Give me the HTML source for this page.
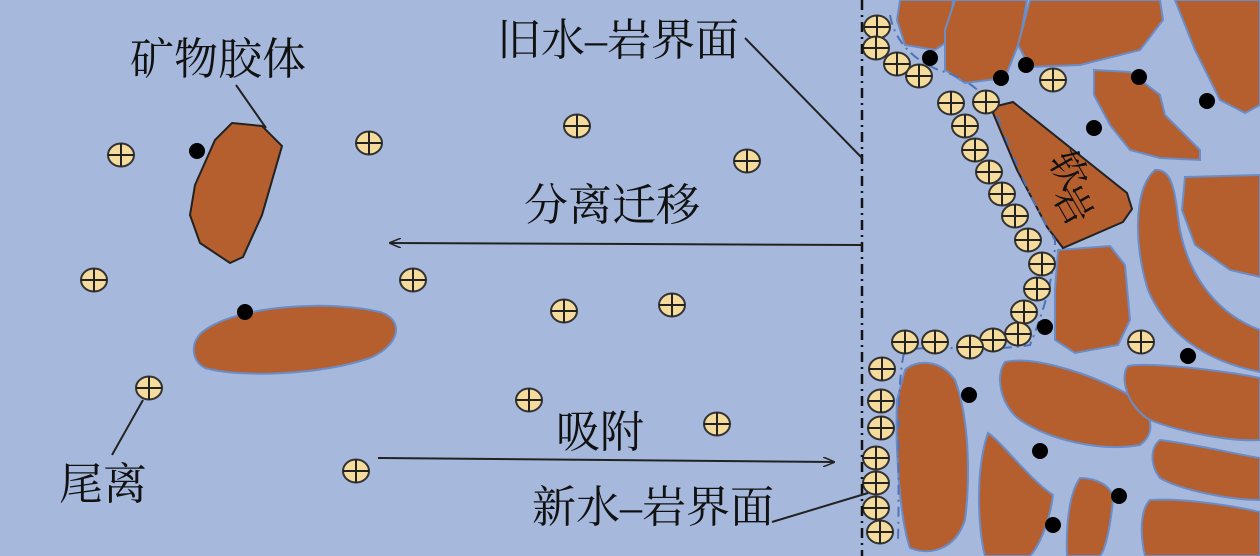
<!DOCTYPE html>
<html><head><meta charset="utf-8"><style>
html,body{margin:0;padding:0;background:#a6b9dc;}
svg{display:block}
text{font-family:"Liberation Serif","Noto Serif CJK SC",serif;fill:#111;}
</style></head><body>
<svg width="1260" height="556" viewBox="0 0 1260 556" xmlns="http://www.w3.org/2000/svg">
<defs>
<g id="c"><ellipse cx="0" cy="0" rx="13" ry="11.5" fill="#f6dc9c" stroke="#333" stroke-width="2"/><line x1="-13" y1="0" x2="13" y2="0" stroke="#222" stroke-width="2"/><line x1="0" y1="-11.5" x2="0" y2="11.5" stroke="#222" stroke-width="2"/></g>
<marker id="ah" markerWidth="12" markerHeight="10" refX="11" refY="5" orient="auto" markerUnits="userSpaceOnUse"><path d="M0,0 L12,5 L0,10" fill="none" stroke="#222" stroke-width="1.5"/></marker>
</defs>
<rect width="1260" height="556" fill="#a6b9dc"/>
<g fill="#b65f2e" stroke="#6a8cc7" stroke-width="2">
<path d="M900,0 L953,0 L950,40 L935,50 L905,45 L897,20Z"/>
<path d="M955,0 L1027,0 L1020,40 L1005,78 L965,83 L945,70 L945,30Z"/>
<path d="M1030,0 L1160,0 L1163,20 L1140,50 L1080,65 L1030,67 L1018,45 Z"/>
<path d="M1175,0 L1260,0 L1260,105 L1245,113 L1220,100 L1195,50 Z"/>
<path d="M1094,70 L1130,72 L1160,95 L1165,115 L1200,150 L1200,160 L1160,158 L1130,150 L1110,125 L1094,95Z"/>
<path d="M1058,250 L1110,246 L1125,265 L1130,320 L1118,345 L1075,353 L1055,340 L1055,290Z"/>
<path d="M1155,170 C1175,168 1175,200 1180,230 C1190,280 1220,315 1260,330 L1260,372 C1200,360 1165,330 1148,290 C1135,250 1132,190 1155,170Z"/>
<path d="M1185,177 L1260,175 L1260,277 L1230,270 L1195,245 L1182,210Z"/>
<path d="M905,370 C915,360 940,358 955,380 C970,420 970,480 965,520 C955,550 930,556 910,548 C900,520 895,450 897,400Z"/>
<path d="M1005,362 C1030,356 1080,370 1120,390 C1150,405 1160,430 1140,445 C1100,452 1050,440 1020,420 C1000,405 995,375 1005,362Z"/>
<path d="M1128,366 C1150,362 1220,370 1260,378 L1260,440 C1230,442 1180,432 1150,420 C1125,405 1120,375 1128,366Z"/>
<path d="M988,433 C1000,440 1030,480 1053,495 C1050,520 1040,545 1030,556 L985,556 C978,530 975,470 988,433Z"/>
<path d="M1080,478 C1095,478 1113,485 1113,500 C1110,530 1105,550 1100,556 L1067,556 C1066,530 1068,495 1080,478Z"/>
<path d="M1150,500 C1180,498 1230,505 1260,512 L1260,556 L1145,556 C1140,535 1140,510 1150,500Z"/>
<path d="M1160,440 C1200,445 1240,455 1260,458 L1260,500 C1230,500 1180,490 1160,478 C1150,465 1150,448 1160,440Z"/>
</g>
<path d="M997,106 L1013,102 L1127,193 L1132,209 L1123,222 L1063,248 L1047,227 L1017,170 L993,113Z" fill="#b65f2e" stroke="#222" stroke-width="2"/>
<text x="0" y="0" font-size="38" transform="translate(1048,160) rotate(60)">软</text>
<text x="0" y="0" font-size="38" transform="translate(1052,195) rotate(60)">岩</text>
<path d="M205,330 C240,305 330,300 380,312 C405,320 400,345 370,358 C320,375 240,378 205,368 C190,360 190,340 205,330Z" fill="#b65f2e" stroke="#6a8cc7" stroke-width="2"/>
<path d="M232,123 L262,126 L282,146 L262,215 L243,257 L230,263 L200,243 L190,215 L195,185 L215,140Z" fill="#b65f2e" stroke="#222" stroke-width="2"/>
<path d="M890,15 C895,45 920,65 945,72 C970,80 985,95 995,110 C1010,150 1030,200 1055,240 C1055,280 1040,320 1030,345 C990,352 930,345 905,350 C895,380 900,480 898,540" fill="none" stroke="#4f73b5" stroke-width="2" stroke-dasharray="10,5,2,5"/>
<g fill="#000">
<circle cx="930" cy="58" r="8"/><circle cx="1001" cy="78" r="8"/><circle cx="1026" cy="65" r="8"/><circle cx="1139" cy="77" r="8"/><circle cx="1207" cy="101" r="8"/><circle cx="1094" cy="128" r="8"/><circle cx="1045" cy="327" r="8"/><circle cx="1188" cy="356" r="8"/><circle cx="969" cy="395" r="8"/><circle cx="1040" cy="451" r="8"/><circle cx="1119" cy="496" r="8"/><circle cx="1053" cy="525" r="8"/>
<circle cx="197" cy="151" r="8"/><circle cx="245" cy="312" r="8"/>
</g>
<g>
<use href="#c" x="877" y="27"/><use href="#c" x="876" y="48"/><use href="#c" x="897" y="64"/><use href="#c" x="919" y="76"/><use href="#c" x="951" y="103"/><use href="#c" x="986" y="102"/><use href="#c" x="965" y="126"/><use href="#c" x="975" y="150"/><use href="#c" x="989" y="172"/><use href="#c" x="1002" y="194"/><use href="#c" x="1015" y="216"/><use href="#c" x="1028" y="240"/><use href="#c" x="1042" y="264"/><use href="#c" x="1037" y="289"/><use href="#c" x="1024" y="312"/><use href="#c" x="1018" y="334"/><use href="#c" x="993" y="340"/><use href="#c" x="970" y="347"/><use href="#c" x="935" y="342"/><use href="#c" x="905" y="342"/><use href="#c" x="882" y="369"/><use href="#c" x="881" y="401"/><use href="#c" x="881" y="428"/><use href="#c" x="876" y="458"/><use href="#c" x="876" y="483"/><use href="#c" x="876" y="508"/><use href="#c" x="880" y="532"/><use href="#c" x="1053" y="80"/><use href="#c" x="1141" y="342"/>
<use href="#c" x="121" y="155"/><use href="#c" x="369" y="143"/><use href="#c" x="577" y="126"/><use href="#c" x="747" y="161"/><use href="#c" x="94" y="280"/><use href="#c" x="413" y="280"/><use href="#c" x="564" y="311"/><use href="#c" x="672" y="305"/><use href="#c" x="149" y="388"/><use href="#c" x="529" y="400"/><use href="#c" x="717" y="424"/><use href="#c" x="356" y="471"/>
</g>
<line x1="862" y1="0" x2="862" y2="556" stroke="#111" stroke-width="2.5" stroke-dasharray="10,5,2,5"/>
<g stroke="#222" stroke-width="2" fill="none">
<line x1="862" y1="245" x2="390" y2="243" marker-end="url(#ah)"/>
<line x1="378" y1="458" x2="834" y2="462" marker-end="url(#ah)"/>
<line x1="236" y1="85" x2="266" y2="128"/>
<line x1="112" y1="455" x2="143" y2="400"/>
<line x1="745" y1="38" x2="862" y2="158"/>
<line x1="772" y1="522" x2="868" y2="493"/>
</g>
<g font-size="44">
<text x="130" y="74">矿物胶体</text>
<text x="497" y="55">旧水–岩界面</text>
<text x="524" y="220">分离迁移</text>
<text x="556" y="447">吸附</text>
<text x="59" y="499">尾离</text>
<text x="532" y="522">新水–岩界面</text>
</g>
</svg>
</body></html>
